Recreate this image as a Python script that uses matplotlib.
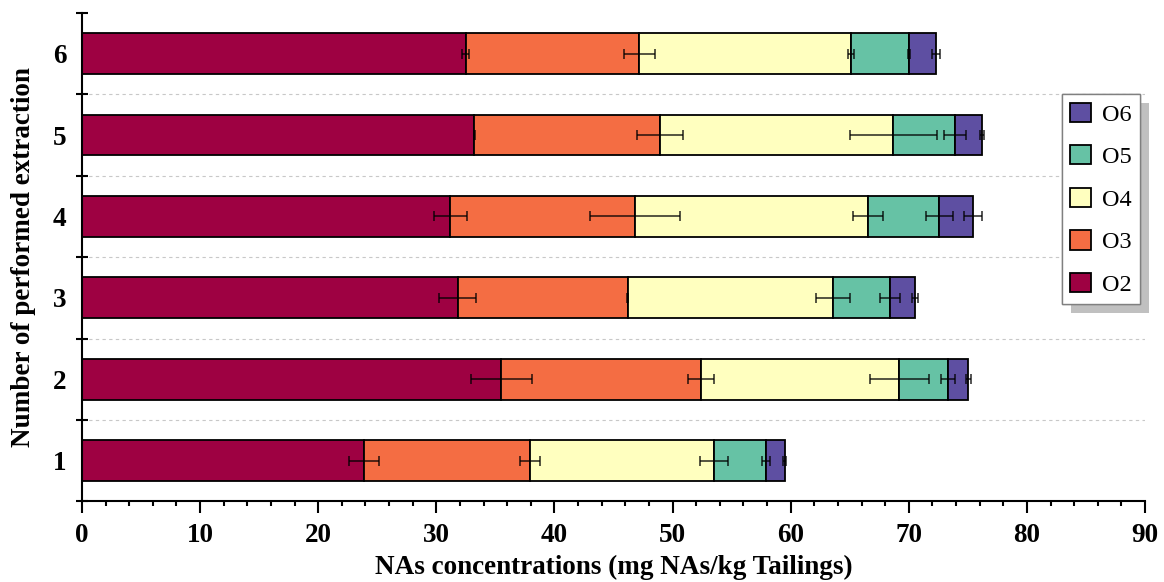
import numpy as np
import matplotlib
matplotlib.use("Agg")
import matplotlib.pyplot as plt
import matplotlib.patheffects as pe

plt.rcParams['font.family'] = ['Liberation Serif', 'DejaVu Serif']

# extraction number and group labels
extractions = [1, 2, 3, 4, 5, 6]
groups = ['O2', 'O3', 'O4', 'O5', 'O6']
colors = ['#9e0142', '#f46d43', '#ffffbf', '#66c2a5', '#5e4fa2']

# concentration of each group (mg NAs/kg tailings), per extraction
O2 = [23.9, 35.5, 31.8, 31.2, 33.2, 32.5]
O3 = [14.0, 16.9, 14.4, 15.6, 15.7, 14.7]
O4 = [15.6, 16.8, 17.4, 19.75, 19.8, 17.9]
O5 = [4.4, 4.1, 4.8, 6.05, 5.2, 4.9]
O6 = [1.6, 1.75, 2.1, 2.8, 2.3, 2.3]

# standard deviations
O2_err = [1.28, 2.6, 1.57, 1.4, 0.05, 0.3]
O3_err = [0.85, 1.1, 0.05, 3.8, 1.95, 1.3]
O4_err = [1.2, 2.5, 1.42, 1.24, 3.7, 0.27]
O5_err = [0.32, 0.58, 0.82, 1.13, 0.92, 0.1]
O6_err = [0.14, 0.24, 0.25, 0.76, 0.17, 0.32]

values = [O2, O3, O4, O5, O6]
errors = [O2_err, O3_err, O4_err, O5_err, O6_err]

fig = plt.figure(figsize=(11.64, 5.82), dpi=100)
ax = fig.add_axes([0.0704, 0.1387, 0.9133, 0.839])

y = np.array(extractions)
left = np.zeros(len(y))
for vals, errs, name, col in zip(values, errors, groups, colors):
    vals = np.array(vals)
    ax.barh(y, vals, height=0.5, left=left, color=col, edgecolor='black',
            linewidth=1.3, label=name, zorder=2)
    left = left + vals
    ax.errorbar(left, y, xerr=errs, fmt='none', ecolor='black', elinewidth=1.1,
                capsize=3.6, capthick=1.1, alpha=0.85, zorder=3)

# separators between rows
ax.hlines(np.arange(1.5, 6, 1), 0, 90, colors='#c8c8c8', linestyles=(0, (3, 3)),
          linewidth=0.8, zorder=1)

ax.set_xlim(0, 90)
ax.set_ylim(0.5, 6.5)
ax.set_xticks(np.arange(0, 91, 10))
ax.set_xticks(np.arange(0, 91, 2), minor=True)
ax.set_yticks(y)
ax.set_yticks(np.arange(0.5, 7, 1), minor=True)

ax.tick_params(axis='x', which='major', direction='out', length=8.6, width=1.5,
               labelsize=19.5, pad=7)
ax.tick_params(axis='x', which='minor', direction='out', length=3.6, width=1.5)
ax.tick_params(axis='y', which='major', length=0, labelsize=19.5, pad=11)
ax.tick_params(axis='y', which='minor', direction='inout', length=8.8, width=1.5)
for lab in ax.get_xticklabels() + ax.get_yticklabels():
    lab.set_fontweight('bold')

for s in ['top', 'right']:
    ax.spines[s].set_visible(False)
for s in ['left', 'bottom']:
    ax.spines[s].set_linewidth(1.5)

ax.set_xlabel('NAs concentrations (mg NAs/kg Tailings)', fontsize=19.5,
              fontweight='bold', labelpad=5)
ax.set_ylabel('Number of performed extraction', fontsize=19.5,
              fontweight='bold', labelpad=12)

handles, labels = ax.get_legend_handles_labels()
leg = ax.legend(handles[::-1], labels[::-1], loc='upper left',
                bbox_to_anchor=(1061.7 / 1164, 1 - 94 / 582),
                bbox_transform=fig.transFigure, fontsize=17.5, fancybox=False,
                edgecolor='#808080', framealpha=1, borderpad=0.35,
                labelspacing=0.8, handlelength=0.85, handleheight=0.85,
                handletextpad=0.45, borderaxespad=0)
leg.get_frame().set_linewidth(1)
leg.get_frame().set_path_effects([
    pe.withSimplePatchShadow(offset=(6.5, -6.5), shadow_rgbFace='#c0c0c0', alpha=1),
    pe.Normal()])

fig.savefig('out.png', dpi=100)
